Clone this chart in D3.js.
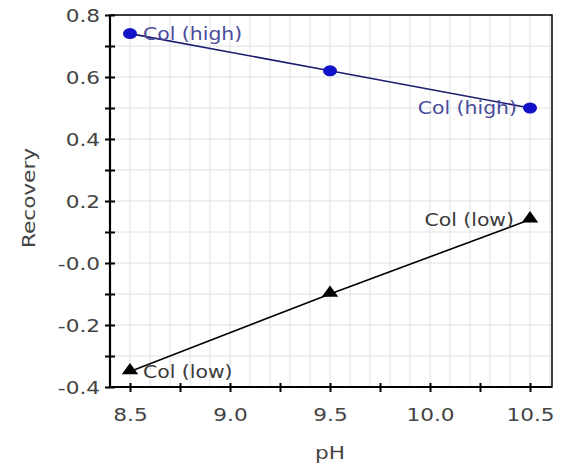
<!DOCTYPE html>
<html><head><meta charset="utf-8">
<script src="https://cdn.jsdelivr.net/npm/d3@7"></script>
<style>body{margin:0;background:#fff}svg{display:block}</style>
</head><body>
<script>
const pH = [8.5, 9.5, 10.5];
const colHigh = [0.74, 0.62, 0.50];
const colLow = [-0.35, -0.10, 0.14];
const xTicks = [8.5, 9.0, 9.5, 10.0, 10.5];
const yTicks = [-0.4, -0.2, 0.0, 0.2, 0.4, 0.6, 0.8];
const seriesNames = ["Col (high)", "Col (low)"];

const W = 561, H = 468;
const L = 110, R = 552, T = 15, B = 387;
const SX = 1.2;
const svg = d3.select("body").append("svg").attr("width", W).attr("height", H);
const x = d3.scaleLinear().domain([8.4, 10.61]).range([L, R]);
const y = d3.scaleLinear().domain([-0.4, 0.8]).range([B, T]);
const font = "DejaVu Sans";

function stretch(sel) {
  sel.each(function () {
    const t = d3.select(this);
    const xv = +(t.attr("x") || 0);
    t.attr("x", xv / SX).attr("transform", (t.attr("transform") || "") + ` scale(${SX},1)`);
  });
}
const fmt = v => d3.format(".1f")(v).replace("\u2212", "-");

// grid
const gx = d3.range(8.4, 10.61, 0.1);
const gy = d3.range(-0.4, 0.81, 0.1);
svg.append("g").selectAll("line").data(gx).join("line")
  .attr("x1", d => x(d)).attr("x2", d => x(d)).attr("y1", T).attr("y2", B)
  .attr("stroke", "#e0e0e0").attr("stroke-width", 1);
svg.append("g").selectAll("line").data(gy).join("line")
  .attr("y1", d => y(d)).attr("y2", d => y(d)).attr("x1", L).attr("x2", R)
  .attr("stroke", "#e0e0e0").attr("stroke-width", 1);

// frame
svg.append("rect").attr("x", L).attr("y", T).attr("width", R - L).attr("height", B - T)
  .attr("fill", "none").attr("stroke", "#000").attr("stroke-width", 1.5);
svg.append("line").attr("x1", L).attr("x2", L).attr("y1", T).attr("y2", B + 1).attr("stroke", "#000").attr("stroke-width", 2.2);
svg.append("line").attr("x1", L - 1).attr("x2", R).attr("y1", B).attr("y2", B).attr("stroke", "#000").attr("stroke-width", 2.2);

// axes
const xAxis = d3.axisBottom(x).tickValues(d3.range(8.5, 10.51, 0.25)).tickSize(5)
  .tickFormat(d => xTicks.some(t => Math.abs(t - d) < 1e-6) ? fmt(d) : "");
const gxa = svg.append("g").attr("transform", `translate(0,${B})`).call(xAxis);
gxa.select(".domain").remove();
gxa.selectAll(".tick line").attr("y1", -4).attr("y2", 5).attr("stroke", "#000").attr("stroke-width", 2);
gxa.selectAll(".tick text").attr("y", 21).attr("dy", "0.71em").attr("font-family", font).attr("font-size", 18).attr("fill", "#444").call(stretch);

const yAxis = d3.axisLeft(y).tickValues(d3.range(-0.4, 0.81, 0.1)).tickSize(5)
  .tickFormat(d => {
    const m = yTicks.find(t => Math.abs(t - d) < 1e-6);
    if (m === undefined) return "";
    return Math.abs(m) < 1e-9 ? "-0.0" : fmt(m);
  });
const gya = svg.append("g").attr("transform", `translate(${L},0)`).call(yAxis);
gya.select(".domain").remove();
gya.selectAll(".tick line").attr("x1", -5).attr("x2", 5).attr("stroke", "#000").attr("stroke-width", 2);
gya.selectAll(".tick text").attr("x", -10).attr("dy", "0.36em").attr("font-family", font).attr("font-size", 18).attr("fill", "#444").call(stretch);

// titles
svg.append("text").attr("x", 330).attr("y", 459).attr("text-anchor", "middle")
  .attr("font-family", font).attr("font-size", 18).attr("fill", "#444").text("pH").call(stretch);
svg.append("text").attr("transform", "translate(35,198) rotate(-90)").attr("text-anchor", "middle")
  .attr("font-family", font).attr("font-size", 18).attr("fill", "#444").text("Recovery").call(stretch);

// series
const line = d3.line().x(d => x(d[0])).y(d => y(d[1]));
const hi = pH.map((p, i) => [p, colHigh[i]]);
const lo = pH.map((p, i) => [p, colLow[i]]);

svg.append("path").datum(hi).attr("d", line).attr("fill", "none").attr("stroke", "#1c1c70").attr("stroke-width", 1.6);
svg.append("path").datum(lo).attr("d", line).attr("fill", "none").attr("stroke", "#000").attr("stroke-width", 1.6);

svg.append("g").selectAll("ellipse").data(hi).join("ellipse")
  .attr("cx", d => x(d[0])).attr("cy", d => y(d[1])).attr("rx", 7).attr("ry", 5.5).attr("fill", "#1212c8");
const tri = d3.symbol().type(d3.symbolTriangle).size(75);
svg.append("g").selectAll("path").data(lo).join("path")
  .attr("transform", d => `translate(${x(d[0])},${y(d[1]) - 1}) scale(1.25,1)`).attr("d", tri).attr("fill", "#000");

// point labels
function lab(px, py, txt, anchor, dx, color) {
  svg.append("text").attr("x", x(px) + dx).attr("y", y(py)).attr("dy", "0.36em")
    .attr("text-anchor", anchor).attr("font-family", font).attr("font-size", 17).attr("fill", color).text(txt).call(stretch);
}
lab(pH[0], colHigh[0], seriesNames[0], "start", 13, "#4b4b9c");
lab(pH[2], colHigh[2], seriesNames[0], "end", -13, "#4b4b9c");
lab(pH[0], colLow[0], seriesNames[1], "start", 13, "#3a3a3a");
lab(pH[2], colLow[2], seriesNames[1], "end", -16, "#3a3a3a");
</script>
</body></html>
